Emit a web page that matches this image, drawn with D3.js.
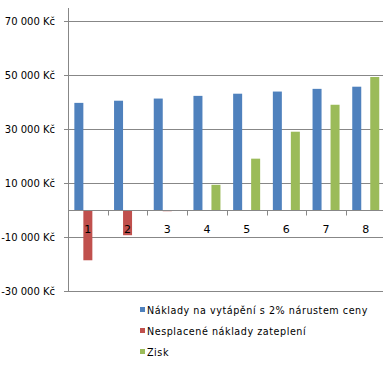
<!DOCTYPE html>
<html><head><meta charset="utf-8">
<script src="https://cdn.jsdelivr.net/npm/d3@7"></script>
<style>body{margin:0;background:#fff}svg{display:block}</style>
</head><body>
<svg id="c" width="383" height="366"></svg>
<script>
const categories = ["1","2","3","4","5","6","7","8"];
const heating = [39800, 40600, 41400, 42400, 43200, 44000, 45000, 45800];
const unpaid = [-18600, -9300, -400, 0, 0, 0, 0, 0];
const profit = [0, 0, 0, 9400, 19100, 29100, 39100, 49400];
const seriesNames = ["Náklady na vytápění s 2% nárustem ceny", "Nesplacené náklady zateplení", "Zisk"];
const colors = ["#4F81BD", "#C0504D", "#9BBB59"];
const yTicks = [-30000, -10000, 10000, 30000, 50000, 70000];

const svg = d3.select("#c");
const y = d3.scaleLinear().domain([-30000, 75000]).range([291, 8]);
const x = d3.scaleBand().domain(categories).range([68, 68 + 8 * 39.7]).padding(0);
const sub = d3.scaleBand().domain([0,1,2]).range([6.35, x.bandwidth() - 6.35]).padding(0);
const grid = "#878787";
const fmt = v => (v < 0 ? "-" : "") + d3.format(",")(Math.abs(v)).replace(/,/g, " ") + " Kč";

// gridlines + y ticks
svg.append("g").selectAll("line").data(yTicks).join("line")
  .attr("x1", 64).attr("x2", 383)
  .attr("y1", d => Math.round(y(d)) + 0.5).attr("y2", d => Math.round(y(d)) + 0.5)
  .attr("stroke", grid).attr("stroke-width", 1);
svg.append("g").selectAll("text").data(yTicks).join("text")
  .attr("x", 55).attr("y", d => y(d) + 3.8)
  .attr("text-anchor", "end")
  .attr("font-family", "DejaVu Sans").attr("font-size", 10).attr("fill", "#000")
  .text(fmt);

// bars
const data = categories.map((c, i) => ({c, v: [heating[i], unpaid[i], profit[i]]}));
const g = svg.append("g");
data.forEach(d => {
  d.v.forEach((v, k) => {
    if (v === 0) return;
    g.append("rect")
      .attr("x", x(d.c) + sub(k)).attr("width", sub.bandwidth())
      .attr("y", y(Math.max(0, v))).attr("height", Math.abs(y(v) - y(0)))
      .attr("fill", colors[k]);
  });
});

// y axis line
svg.append("line").attr("x1", 68.5).attr("x2", 68.5).attr("y1", 8).attr("y2", 291.5)
  .attr("stroke", grid);
// zero category axis
const y0 = Math.round(y(0)) + 0.5;
svg.append("line").attr("x1", 68).attr("x2", 383).attr("y1", y0).attr("y2", y0).attr("stroke", grid);
svg.append("g").selectAll("line").data(categories.slice(1)).join("line")
  .attr("x1", d => Math.round(x(d)) + 0.5).attr("x2", d => Math.round(x(d)) + 0.5)
  .attr("y1", y0).attr("y2", y0 + 5).attr("stroke", grid);
svg.append("g").selectAll("text").data(categories).join("text")
  .attr("x", d => x(d) + x.bandwidth() / 2).attr("y", y0 + 22)
  .attr("text-anchor", "middle")
  .attr("font-family", "DejaVu Sans").attr("font-size", 11).attr("fill", "#000")
  .text(d => d);

// legend
const lg = svg.append("g");
seriesNames.forEach((n, i) => {
  const cy = 310 + i * 21;
  lg.append("rect").attr("x", 140).attr("y", cy - 3).attr("width", 5).attr("height", 5).attr("fill", colors[i]);
  lg.append("text").attr("x", 147).attr("y", cy + 3.5)
    .attr("font-family", "DejaVu Sans").attr("font-size", 9.6).attr("letter-spacing", 0.55)
    .attr("fill", "#000").text(n);
});
</script>
</body></html>
